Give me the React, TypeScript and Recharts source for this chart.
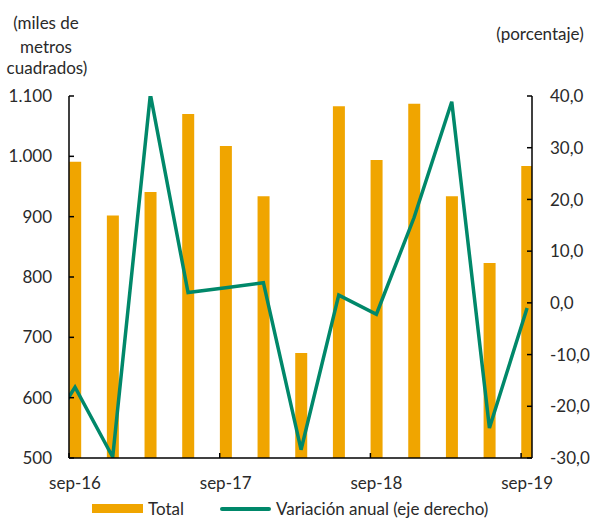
import { ComposedChart, Bar, Line, XAxis, YAxis } from "recharts";

// quarters; jun-16 only feeds the line segment that enters from the left edge
const quarters = ["jun-16", "sep-16", "dic-16", "mar-17", "jun-17", "sep-17", "dic-17", "mar-18", "jun-18", "sep-18", "dic-18", "mar-19", "jun-19", "sep-19"];
const totals = [null, 991, 902, 941, 1070, 1017, 934, 674, 1083, 994, 1087, 934, 823, 984];
const variation = [-28, -16.3, -29.8, 40.3, 2.0, 2.9, 3.9, -28.4, 1.5, -2.2, 16.5, 38.9, -24.2, -1.0];

const xTicks = [0, 4, 8, 12];
const xTickLabels = ["sep-16", "sep-17", "sep-18", "sep-19"];
const leftTicks = [500, 600, 700, 800, 900, 1000, 1100];
const rightTicks = [-30, -20, -10, 0, 10, 20, 30, 40];

const seriesNames = ["Total", "Variación anual (eje derecho)"];

const ORANGE = "#F0A500";
const GREEN = "#00886A";
const TEXT = "#2a2a2a";
const FONT = "Lato, 'Open Sans', sans-serif";

const data = quarters.map((q, i) => ({
  idx: i - 1,
  quarter: q,
  total: totals[i],
  variation: variation[i],
}));

const thousands = (v: number) => String(v).replace(/\B(?=(\d{3})+(?!\d))/g, ".");
const decimalComma = (v: number) => v.toFixed(1).replace(".", ",");

function XTick(props: any) {
  const { x, y, payload } = props;
  const label = xTickLabels[xTicks.indexOf(payload.value)] ?? "";
  return (
    <g>
      <line x1={x - 6} x2={x - 6} y1={y} y2={y - 5} stroke="#000" strokeWidth={1.5} />
      <text x={x} y={y + 31} textAnchor="middle" fill={TEXT} fontSize={17} fontFamily={FONT}>
        {label}
      </text>
    </g>
  );
}

function LeftTick(props: any) {
  const { x, y, payload } = props;
  return (
    <g>
      <line x1={x} x2={x + 5} y1={y} y2={y} stroke="#000" strokeWidth={1.5} />
      <text x={x - 17} y={y} dy="0.36em" textAnchor="end" fill={TEXT} fontSize={17} fontFamily={FONT}>
        {thousands(payload.value)}
      </text>
    </g>
  );
}

function RightTick(props: any) {
  const { x, y, payload } = props;
  return (
    <g>
      <line x1={x} x2={x - 5} y1={y} y2={y} stroke="#000" strokeWidth={1.5} />
      <text x={x + 18} y={y} dy="0.36em" textAnchor="start" fill={TEXT} fontSize={17} fontFamily={FONT}>
        {decimalComma(payload.value)}
      </text>
    </g>
  );
}

export default function App() {
  return (
    <div style={{ position: "absolute", left: 0, top: 0, width: 590, height: 519, fontFamily: FONT, background: "#fff", overflow: "hidden" }}>
      <svg width={590} height={519} style={{ position: "absolute", left: 0, top: 0 }}>
        <g fill={TEXT} fontSize={17} fontFamily={FONT} textAnchor="middle">
          <text x={46} y={29}>(miles de</text>
          <text x={46} y={53}>metros</text>
          <text x={47} y={74}>cuadrados)</text>
          <text x={540} y={40}>(porcentaje)</text>
        </g>
      </svg>
      <div style={{ position: "absolute", left: 0, top: 0 }}>
        <ComposedChart width={590} height={519} data={data} margin={{ top: 96, right: 0, bottom: 31, left: 0 }} style={{ overflow: "hidden" }}>
          <XAxis
            dataKey="idx"
            type="number"
            domain={[-0.16, 12.13]}
            allowDataOverflow
            ticks={xTicks}
            interval={0}
            height={30}
            tickSize={0}
            tickMargin={0}
            tickLine={false}
            axisLine={{ stroke: "#000", strokeWidth: 1.5 }}
            tick={<XTick />}
          />
          <YAxis
            yAxisId="left"
            orientation="left"
            width={69}
            domain={[500, 1100]}
            ticks={leftTicks}
            interval={0}
            allowDataOverflow
            tickSize={0}
            tickMargin={0}
            tickLine={false}
            axisLine={{ stroke: "#000", strokeWidth: 1.5 }}
            tick={<LeftTick />}
          />
          <YAxis
            yAxisId="right"
            orientation="right"
            width={58}
            domain={[-30, 40]}
            ticks={rightTicks}
            interval={0}
            allowDataOverflow
            tickSize={0}
            tickMargin={0}
            tickLine={false}
            axisLine={{ stroke: "#000", strokeWidth: 1.5 }}
            tick={<RightTick />}
          />
          <Bar yAxisId="left" dataKey="total" name={seriesNames[0]} fill={ORANGE} barSize={12} isAnimationActive={false} />
          <Line
            yAxisId="right"
            dataKey="variation"
            name={seriesNames[1]}
            type="linear"
            stroke={GREEN}
            strokeWidth={3.5}
            dot={false}
            activeDot={false}
            isAnimationActive={false}
          />
        </ComposedChart>
      </div>
      <div style={{ position: "absolute", top: 498, left: 92, display: "flex", alignItems: "center", fontSize: 17, color: TEXT, whiteSpace: "nowrap" }}>
        <span style={{ display: "inline-block", width: 51, height: 9, background: ORANGE, marginRight: 5 }} />
        <span style={{ marginRight: 36 }}>{seriesNames[0]}</span>
        <span style={{ display: "inline-block", width: 51, height: 4, background: GREEN, borderRadius: 2, marginRight: 5 }} />
        <span>{seriesNames[1]}</span>
      </div>
    </div>
  );
}
